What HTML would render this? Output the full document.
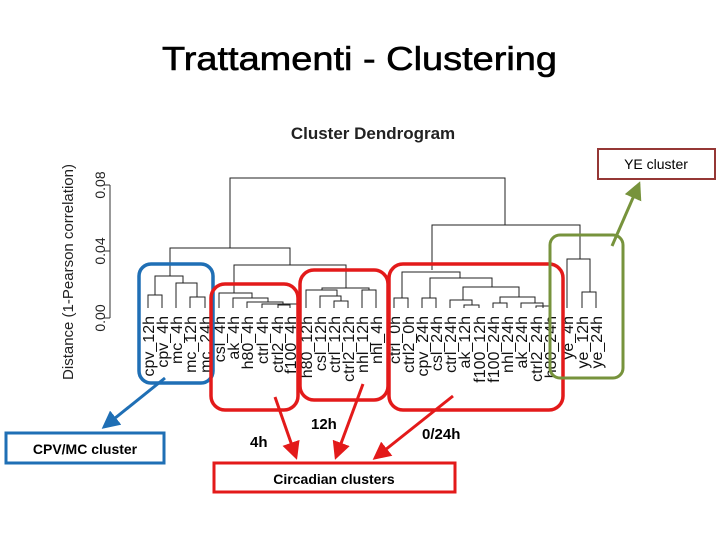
<!DOCTYPE html>
<html><head><style>body{margin:0;background:#fff}svg{display:block}</style></head><body>
<svg width="720" height="540" xmlns="http://www.w3.org/2000/svg" font-family="Liberation Sans, sans-serif">
<defs>
<marker id="ab" markerWidth="6" markerHeight="6" refX="5" refY="3" orient="auto" markerUnits="strokeWidth"><path d="M0,0 L6,3 L0,6 z" fill="#1f6fb5"/></marker>
<marker id="ar" markerWidth="6" markerHeight="6" refX="5" refY="3" orient="auto" markerUnits="strokeWidth"><path d="M0,0 L6,3 L0,6 z" fill="#e31a1a"/></marker>
<marker id="ag" markerWidth="6" markerHeight="6" refX="5" refY="3" orient="auto" markerUnits="strokeWidth"><path d="M0,0 L6,3 L0,6 z" fill="#77933c"/></marker>
</defs>
<text x="162" y="70" font-size="33" textLength="395" lengthAdjust="spacingAndGlyphs" font-family="Liberation Sans, sans-serif" stroke="#000" stroke-width="0.6">Trattamenti - Clustering</text>
<text x="373" y="139" font-size="17" font-weight="bold" text-anchor="middle" fill="#222">Cluster Dendrogram</text>
<!-- axis -->
<g stroke="#333" stroke-width="1" fill="none">
<line x1="110" y1="185" x2="110" y2="318"/>
<line x1="104" y1="318" x2="110" y2="318"/>
<line x1="104" y1="251" x2="110" y2="251"/>
<line x1="104" y1="185" x2="110" y2="185"/>
</g>
<g font-size="14" fill="#222" text-anchor="middle">
<text transform="translate(105,318) rotate(-90)">0.00</text>
<text transform="translate(105,251) rotate(-90)">0.04</text>
<text transform="translate(105,185) rotate(-90)">0.08</text>
<text transform="translate(73,272) rotate(-90)" font-size="15">Distance (1-Pearson correlation)</text>
</g>
<!-- dendrogram -->
<g stroke="#222" stroke-width="1" fill="none">
<path d="M230,248 V178 H505 V225"/>
<path d="M170,276 V248 H290 V265"/>
<path d="M432,270 V225 H580 V259"/>
<path d="M155,295 V276 H183 V283"/>
<path d="M148,308 V295 H162 V308"/>
<path d="M176,308 V283 H197 V297"/>
<path d="M190,308 V297 H205 V308"/>
<path d="M234,293 V265 H346 V288"/>
<path d="M219,308 V293 H252 V298"/>
<path d="M233,308 V298 H268 V302"/>
<path d="M247,308 V302 H283 V304"/>
<path d="M262,308 V304 H297 V305"/>
<path d="M290,308 V305 H278 V308"/>
<path d="M322,290 V288 H369 V290"/>
<path d="M306,308 V290 H337 V296"/>
<path d="M320,308 V296 H341 V301"/>
<path d="M334,308 V301 H348 V308"/>
<path d="M362,308 V290 H376 V308"/>
<path d="M402,298 V272 H460 V278"/>
<path d="M394,308 V298 H408 V308"/>
<path d="M430,298 V278 H492 V287"/>
<path d="M422,308 V298 H436 V308"/>
<path d="M463,300 V287 H519 V297"/>
<path d="M450,308 V300 H472 V305"/>
<path d="M464,308 V305 H479 V308"/>
<path d="M500,303 V297 H535 V303"/>
<path d="M493,308 V303 H507 V308"/>
<path d="M521,308 V303 H543 V308"/>
<path d="M536,308 V306 H550 V308"/>
<path d="M567,308 V259 H590 V292"/>
<path d="M582,308 V292 H596 V308"/>
</g>
<g font-size="16" fill="#111" text-anchor="end">
<text transform="translate(154,316) rotate(-90)">cpv_12h</text>
<text transform="translate(168,316) rotate(-90)">cpv_4h</text>
<text transform="translate(182,316) rotate(-90)">mc_4h</text>
<text transform="translate(196,316) rotate(-90)">mc_12h</text>
<text transform="translate(211,316) rotate(-90)">mc_24h</text>
<text transform="translate(225,316) rotate(-90)">csl_4h</text>
<text transform="translate(239,316) rotate(-90)">ak_4h</text>
<text transform="translate(253,316) rotate(-90)">h80_4h</text>
<text transform="translate(268,316) rotate(-90)">ctrl_4h</text>
<text transform="translate(283,316) rotate(-90)">ctrl2_4h</text>
<text transform="translate(296,316) rotate(-90)">f100_4h</text>
<text transform="translate(312,316) rotate(-90)">h80_12h</text>
<text transform="translate(326,316) rotate(-90)">csl_12h</text>
<text transform="translate(340,316) rotate(-90)">ctrl_12h</text>
<text transform="translate(354,316) rotate(-90)">ctrl2_12h</text>
<text transform="translate(368,316) rotate(-90)">nhl_12h</text>
<text transform="translate(382,316) rotate(-90)">nhl_4h</text>
<text transform="translate(400,316) rotate(-90)">ctrl_0h</text>
<text transform="translate(414,316) rotate(-90)">ctrl2_0h</text>
<text transform="translate(428,316) rotate(-90)">cpv_24h</text>
<text transform="translate(442,316) rotate(-90)">csl_24h</text>
<text transform="translate(456,316) rotate(-90)">ctrl_24h</text>
<text transform="translate(470,316) rotate(-90)">ak_12h</text>
<text transform="translate(485,316) rotate(-90)">f100_12h</text>
<text transform="translate(499,316) rotate(-90)">f100_24h</text>
<text transform="translate(513,316) rotate(-90)">nhl_24h</text>
<text transform="translate(527,316) rotate(-90)">ak_24h</text>
<text transform="translate(542,316) rotate(-90)">ctrl2_24h</text>
<text transform="translate(556,316) rotate(-90)">h80_24h</text>
<text transform="translate(573,316) rotate(-90)">ye_4h</text>
<text transform="translate(588,316) rotate(-90)">ye_12h</text>
<text transform="translate(602,316) rotate(-90)">ye_24h</text>
</g>
<!-- cluster boxes -->
<g fill="none" stroke-width="3.5">
<rect x="139" y="264" width="74" height="119" rx="12" stroke="#1f6fb5"/>
<rect x="211" y="284" width="87" height="126" rx="14" stroke="#e31a1a"/>
<rect x="300" y="270" width="88" height="130" rx="14" stroke="#e31a1a"/>
<rect x="389" y="264" width="174" height="146" rx="14" stroke="#e31a1a"/>
<rect x="550" y="235" width="73" height="143" rx="10" stroke="#77933c" stroke-width="3"/>
</g>
<rect x="598" y="149" width="117" height="30" fill="#fff" stroke="#953735" stroke-width="2"/>
<text x="656" y="169" font-size="14" text-anchor="middle">YE cluster</text>
<rect x="6" y="433" width="158" height="30" fill="#fff" stroke="#1f6fb5" stroke-width="3"/>
<text x="85" y="454" font-size="14" font-weight="bold" text-anchor="middle">CPV/MC cluster</text>
<rect x="214" y="463" width="241" height="29" fill="#fff" stroke="#e31a1a" stroke-width="3"/>
<text x="334" y="484" font-size="14" font-weight="bold" text-anchor="middle">Circadian clusters</text>
<g font-size="15" font-weight="bold">
<text x="250" y="447">4h</text>
<text x="311" y="429">12h</text>
<text x="422" y="439">0/24h</text>
</g>
<!-- arrows -->
<g stroke-width="3" fill="none">
<line x1="165" y1="378" x2="104" y2="427" stroke="#1f6fb5" marker-end="url(#ab)"/>
<line x1="275" y1="397" x2="296" y2="457" stroke="#e31a1a" marker-end="url(#ar)"/>
<line x1="363" y1="384" x2="336" y2="457" stroke="#e31a1a" marker-end="url(#ar)"/>
<line x1="453" y1="396" x2="375" y2="458" stroke="#e31a1a" marker-end="url(#ar)"/>
<line x1="612" y1="246" x2="639" y2="184" stroke="#77933c" marker-end="url(#ag)"/>
</g>
</svg>
</body></html>
